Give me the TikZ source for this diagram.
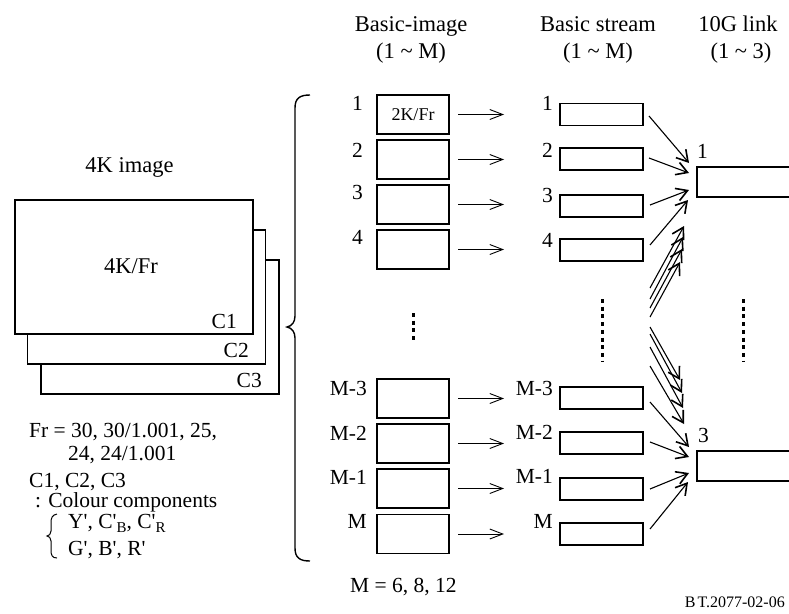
\documentclass[tikz,border=0pt]{standalone}
\usepackage{fontspec}
\setmainfont{Liberation Serif}
\usetikzlibrary{arrows.meta}
\newcommand\lowsub[1]{\raisebox{-4pt}{\fontsize{15}{15}\selectfont #1}}
\begin{document}
\begin{tikzpicture}[x=1pt,y=-1pt,
  txt/.style={inner sep=0pt, font=\fontsize{21.5}{21.5}\selectfont},
  head/.style={inner sep=0pt, font=\fontsize{22.5}{22.5}\selectfont},
  ibox/.style={draw, line width=1.8pt, minimum width=72pt, minimum height=39pt, inner sep=0pt, outer sep=0pt},
  sbox/.style={draw, line width=1.8pt, minimum width=83pt, minimum height=22pt, inner sep=0pt, outer sep=0pt},
  lbox/.style={draw, line width=1.6pt, minimum width=130pt, minimum height=30pt, inner sep=0pt, outer sep=0pt},
  layer/.style={draw, fill=white, line width=1.3pt, minimum width=238pt, minimum height=134pt, inner sep=0pt},
  harr/.style={-{Straight Barb[length=13pt,width=10pt]}, line width=0.9pt},
  darr/.style={-{Straight Barb[length=11pt,width=13pt,line width=1.6pt]}, line width=1.1pt},
  dots/.style={line width=3pt, dash pattern=on 4pt off 3.7pt},
]
\useasboundingbox (0,0) rectangle (789,613);

% headers
\node[head, anchor=base] (h1) at (411,31) {Basic-image};
\node[head, anchor=base] (h1b) at (411,58) {(1 \textasciitilde{} M)};
\node[head, anchor=base] (h2) at (598,31) {Basic stream};
\node[head, anchor=base] (h2b) at (598,58) {(1 \textasciitilde{} M)};
\node[head, anchor=base] (h3) at (738,31) {10G link};
\node[head, anchor=base] (h3b) at (741,58) {(1 \textasciitilde{} 3)};

% 4K image stack
\node[head, anchor=base] (t4k) at (129.5,172) {4K image};
\node[layer] (c3) at (160,327) {};
\node[layer] (c2) at (146.5,297) {};
\node[layer] (c1) at (134,267) {};
\node[head, anchor=base] (fr) at (131,273) {4K/Fr};
\node[txt, anchor=base east] (lc1) at (237,328) {C1};
\node[txt, anchor=base east] (lc2) at (249,357) {C2};
\node[txt, anchor=base east] (lc3) at (262,387) {C3};

% notes
\node[txt, anchor=base west] (n1) at (29,437) {Fr = 30, 30/1.001, 25,};
\node[txt, anchor=base west] (n2) at (68,460) {24, 24/1.001};
\node[txt, anchor=base west] (n3) at (29,487) {C1, C2, C3};
\node[txt, anchor=base west] (n4) at (35,507) {: Colour components};
\node[txt, anchor=base west] (n5) at (68,528) {Y\textquotesingle, C\textquotesingle\lowsub{B}, C\textquotesingle\lowsub{R}};
\node[txt, anchor=base west] (n6) at (68,555) {G\textquotesingle, B\textquotesingle, R\textquotesingle};
\draw[line width=1pt] (57,514) .. controls (52,515) and (51,518) .. (51,523) -- (51,531)
  .. controls (51,534) and (49,536) .. (47,536) .. controls (49,536) and (51,538) .. (51,541)
  -- (51,550) .. controls (51,555) and (52,558) .. (57,558);

% big brace
\draw[line width=1.4pt] (310,95) .. controls (300,95) and (295,98) .. (295,108) -- (295,316)
  .. controls (295,322) and (292,326) .. (287,327) .. controls (292,328) and (295,332) .. (295,338)
  -- (295,548) .. controls (295,558) and (300,561) .. (310,561);

% basic-image boxes
\node[ibox] (i1) at (413,114.5) {};
\node[inner sep=0pt, font=\fontsize{18}{18}\selectfont, anchor=base] (i1t) at (413,120) {2K/Fr};
\node[ibox] (i2) at (413,159.5) {};
\node[ibox] (i3) at (413,204.5) {};
\node[ibox] (i4) at (413,249.5) {};
\node[ibox] (i5) at (413,398.5) {};
\node[ibox] (i6) at (413,443.5) {};
\node[ibox] (i7) at (413,488.5) {};
\node[ibox] (i8) at (413,534) {};
\node[txt, anchor=base east] (li1) at (363,110) {1};
\node[txt, anchor=base east] (li2) at (363,157) {2};
\node[txt, anchor=base east] (li3) at (363,199) {3};
\node[txt, anchor=base east] (li4) at (363,244) {4};
\node[txt, anchor=base east] (li5) at (367,395) {M-3};
\node[txt, anchor=base east] (li6) at (367,440) {M-2};
\node[txt, anchor=base east] (li7) at (367,484) {M-1};
\node[txt, anchor=base east] (li8) at (367,528) {M};

% basic stream boxes
\node[sbox] (s1) at (601.5,114.5) {};
\node[sbox] (s2) at (601.5,159) {};
\node[sbox] (s3) at (601.5,206) {};
\node[sbox] (s4) at (601.5,250) {};
\node[sbox] (s5) at (601.5,398) {};
\node[sbox] (s6) at (601.5,443) {};
\node[sbox] (s7) at (601.5,489) {};
\node[sbox] (s8) at (601.5,534) {};
\node[txt, anchor=base east] (ls1) at (553,110) {1};
\node[txt, anchor=base east] (ls2) at (553,157) {2};
\node[txt, anchor=base east] (ls3) at (553,202) {3};
\node[txt, anchor=base east] (ls4) at (553,247) {4};
\node[txt, anchor=base east] (ls5) at (553,395) {M-3};
\node[txt, anchor=base east] (ls6) at (553,439) {M-2};
\node[txt, anchor=base east] (ls7) at (553,483) {M-1};
\node[txt, anchor=base east] (ls8) at (553,528) {M};

% 10G link boxes
\node[lbox] (l1) at (762,182) {};
\node[lbox] (l3) at (762,466) {};
\node[txt, anchor=base west] (ll1) at (697,158) {1};
\node[txt, anchor=base west] (ll3) at (698,442) {3};

% horizontal arrows
\foreach \k in {1,...,8}{
  \draw[harr, shorten <=9pt, shorten >=56pt] (i\k.east) -- (i\k.east -| s\k.west);
}

% diagonal arrows to link 1
\draw[darr] ([shift={(6,1.5)}]s1.east) -- ([shift={(-8,-19)}]l1.west);
\draw[darr] ([shift={(6,-1)}]s2.east) -- ([shift={(-8,-9)}]l1.west);
\draw[darr] ([shift={(7,-1)}]s3.east) -- ([shift={(-8,8)}]l1.west);
\draw[darr] ([shift={(7,-5)}]s4.east) -- ([shift={(-9,18)}]l1.west);
% diagonal arrows to link 3
\draw[darr] ([shift={(7,4)}]s5.east) -- ([shift={(-8,-19)}]l3.west);
\draw[darr] ([shift={(7,-1)}]s6.east) -- ([shift={(-8,-9)}]l3.west);
\draw[darr] ([shift={(7,0)}]s7.east) -- ([shift={(-8,7)}]l3.west);
\draw[darr] ([shift={(7,-5)}]s8.east) -- ([shift={(-9,16)}]l3.west);

% bundles of arrows from omitted streams
\coordinate (ua1) at (650,288); \coordinate (ub1) at (684,226);
\coordinate (ua2) at (650,299); \coordinate (ub2) at (683,237);
\coordinate (ua3) at (650,308); \coordinate (ub3) at (682,249);
\coordinate (ua4) at (650,317); \coordinate (ub4) at (680,262);
\coordinate (da1) at (650,327); \coordinate (db1) at (680,380);
\coordinate (da2) at (650,334); \coordinate (db2) at (682,393);
\coordinate (da3) at (650,347); \coordinate (db3) at (683,408);
\coordinate (da4) at (650,366); \coordinate (db4) at (684,424);
\foreach \k in {1,...,4}{
  \draw[darr] (ua\k) -- (ub\k);
  \draw[darr] (da\k) -- (db\k);
}

% vertical dots
\draw[dots] (413,313) -- (413,342);
\draw[dots] (602,299) -- (602,362);
\draw[dots] (743,299) -- (743,362);

% footer
\node[txt, anchor=base west] (mval) at (350,592) {M = 6, 8, 12};
\node[inner sep=0pt, font=\fontsize{16}{16}\selectfont, anchor=base east] (code) at (785,607) {B\kern2pt T.2077-02-06};
\end{tikzpicture}
\end{document}
